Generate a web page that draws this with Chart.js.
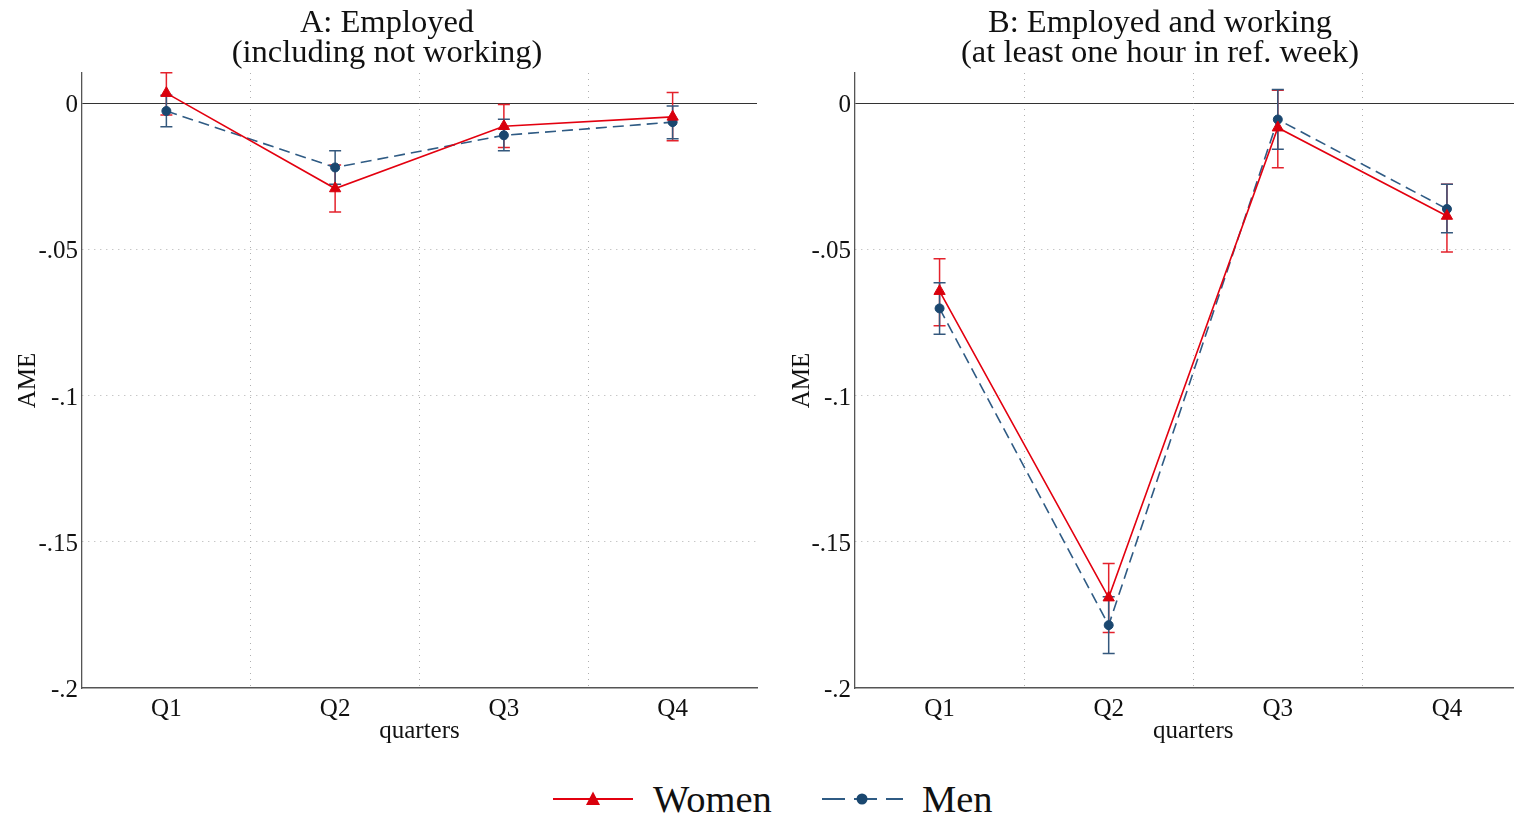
<!DOCTYPE html>
<html>
<head>
<meta charset="utf-8">
<script src="https://cdn.jsdelivr.net/npm/chart.js@4/dist/chart.umd.min.js"></script>
<style>
  html, body { margin: 0; padding: 0; background: #fff; width: 1514px; height: 814px; overflow: hidden; }
  body { position: relative; font-family: "Liberation Serif", "DejaVu Serif", serif; color: #111; }
  .panel { position: absolute; top: 0; }
  #canvasA { left: 0; }
  #canvasB { left: 774px; }
  .ptitle { position: absolute; top: 6px; font-size: 32.5px; line-height: 30px; text-align: center;
            white-space: nowrap; transform: translateX(-50%); }
  #legendIcons { position: absolute; left: 0; top: 780px; }
  .ltext { position: absolute; top: 780px; font-size: 38.5px; line-height: 38px; white-space: nowrap; }
</style>
</head>
<body>
<canvas id="canvasA" class="panel" width="774" height="760"></canvas>
<canvas id="canvasB" class="panel" width="765" height="760"></canvas>
<div class="ptitle" style="left:387px">A: Employed<br>(including not working)</div>
<div class="ptitle" style="left:1160px">B: Employed and working<br>(at least one hour in ref. week)</div>

<svg id="legendIcons" width="1514" height="40">
  <line x1="553" y1="19" x2="633" y2="19" stroke="#e3000f" stroke-width="2"/>
  <polygon points="593,11.5 586,25 600,25" fill="#d9000d"/>
  <line x1="822" y1="19" x2="903" y2="19" stroke="#2f5b84" stroke-width="2" stroke-dasharray="23 9"/>
  <circle cx="862" cy="19" r="5.5" fill="#1a476f"/>
</svg>
<span class="ltext" style="left:653px">Women</span>
<span class="ltext" style="left:922px">Men</span>

<script>
const quarters = ['Q1', 'Q2', 'Q3', 'Q4'];
const yTickValues = [-0.2, -0.15, -0.1, -0.05, 0];
const yTickLabels = ['-.2', '-.15', '-.1', '-.05', '0'];

// Panel A: employed (including not working) — AME with 95% CI bounds
const womenA   = [0.0034, -0.0292, -0.0079, -0.0047];
const womenALo = [-0.0041, -0.0372, -0.0152, -0.0129];
const womenAHi = [0.0104, -0.0212, -0.0005, 0.0036];
const menA     = [-0.0027, -0.0220, -0.0110, -0.0065];
const menALo   = [-0.0081, -0.0277, -0.0163, -0.0122];
const menAHi   = [0.0027, -0.0163, -0.0055, -0.0010];

// Panel B: employed and working (at least one hour in ref. week)
const womenB   = [-0.0643, -0.1691, -0.0084, -0.0386];
const womenBLo = [-0.0761, -0.1810, -0.0221, -0.0509];
const womenBHi = [-0.0532, -0.1574, 0.0044, -0.0277];
const menB     = [-0.0702, -0.1785, -0.0056, -0.0362];
const menBLo   = [-0.0790, -0.1882, -0.0158, -0.0443];
const menBHi   = [-0.0614, -0.1688, 0.0047, -0.0277];

const FONT = '"Liberation Serif", "DejaVu Serif", serif';
const GRID = '#b0b0b0';

// Capped vertical error bars, placed with the chart's own scales
const errorBars = {
  id: 'errorBars',
  beforeDatasetsDraw(chart) {
    const { ctx, scales: { x, y } } = chart;
    chart.data.datasets.forEach(ds => {
      ctx.save();
      ctx.strokeStyle = ds.errColor;
      ctx.lineWidth = 1.5;
      ds.data.forEach((_, i) => {
        const px = x.getPixelForValue(i);
        const yl = y.getPixelForValue(ds.errLo[i]);
        const yh = y.getPixelForValue(ds.errHi[i]);
        ctx.beginPath();
        ctx.moveTo(px, yl); ctx.lineTo(px, yh);
        ctx.moveTo(px - 6, yl); ctx.lineTo(px + 6, yl);
        ctx.moveTo(px - 6, yh); ctx.lineTo(px + 6, yh);
        ctx.stroke();
      });
      ctx.restore();
    });
  }
};

function makePanel(id, women, wLo, wHi, men, mLo, mHi, yWidth, padRight) {
  return new Chart(document.getElementById(id), {
    type: 'line',
    data: {
      labels: quarters,
      datasets: [
        {
          label: 'Women', data: women, errLo: wLo, errHi: wHi, errColor: '#e4222c',
          borderColor: '#e3000f', borderWidth: 1.6, tension: 0, clip: false,
          pointStyle: 'triangle', pointRadius: 6.5,
          pointBackgroundColor: '#d9000d', pointBorderColor: '#d9000d', pointBorderWidth: 1
        },
        {
          label: 'Men', data: men, errLo: mLo, errHi: mHi, errColor: '#34587d',
          borderColor: '#2f5b84', borderWidth: 1.6, borderDash: [11, 6], tension: 0, clip: false,
          pointStyle: 'circle', pointRadius: 4.5,
          pointBackgroundColor: '#1a476f', pointBorderColor: '#1a476f', pointBorderWidth: 1
        }
      ]
    },
    options: {
      responsive: false,
      animation: false,
      devicePixelRatio: 1,
      layout: { padding: { top: 73, left: 0, right: padRight, bottom: 0 } },
      plugins: { legend: { display: false }, tooltip: { enabled: false } },
      scales: {
        x: {
          type: 'category',
          offset: true,
          grid: {
            offset: true, drawTicks: false, lineWidth: 1,
            color: c => (c.index >= 1 && c.index <= 3) ? GRID : 'rgba(0,0,0,0)'
          },
          border: { display: true, color: '#555', width: 1.5, dash: [1, 5] },
          ticks: { padding: 6, color: '#111', font: { family: FONT, size: 25 } },
          title: {
            display: true, text: 'quarters', color: '#111',
            font: { family: FONT, size: 25, lineHeight: 1 }, padding: { top: 0, bottom: 16.5 }
          },
          afterFit(s) { s.height = 72; }
        },
        y: {
          min: -0.2, max: 0.0103,
          afterBuildTicks(s) { s.ticks = yTickValues.map(v => ({ value: v })); },
          grid: {
            drawTicks: false, lineWidth: 1,
            color: c => {
              if (!c.tick) return 'rgba(0,0,0,0)';
              if (c.tick.value === 0) return '#333';
              return c.tick.value > -0.2 ? GRID : 'rgba(0,0,0,0)';
            }
          },
          border: {
            display: true, color: '#555', width: 1.3,
            dash: c => (c.tick && c.tick.value === 0) ? [] : [1, 5]
          },
          ticks: {
            padding: 4, labelOffset: 2.5, color: '#111', font: { family: FONT, size: 25 },
            callback: v => yTickLabels[yTickValues.indexOf(v)]
          },
          title: {
            display: true, text: 'AME', color: '#111',
            font: { family: FONT, size: 25, lineHeight: 1 }, padding: { top: 15.5, bottom: 0 }
          },
          afterFit(s) { s.width = yWidth; }
        }
      }
    },
    plugins: [errorBars]
  });
}

makePanel('canvasA', womenA, womenALo, womenAHi, menA, menALo, menAHi, 82, 17);
makePanel('canvasB', womenB, womenBLo, womenBHi, menB, menBLo, menBHi, 81, 0);
</script>
</body>
</html>
